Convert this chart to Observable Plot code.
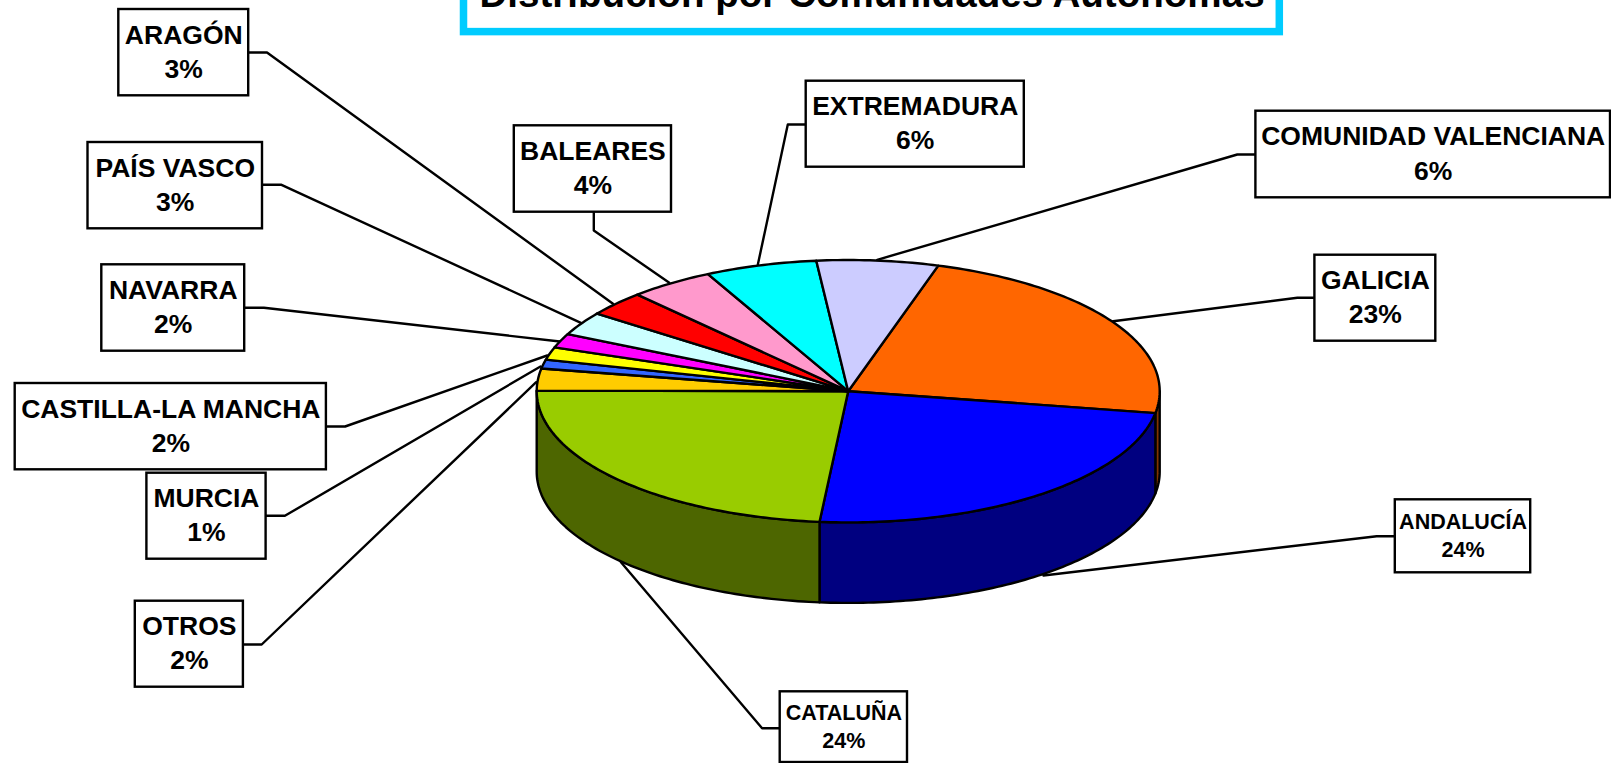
<!DOCTYPE html>
<html lang="es">
<head>
<meta charset="utf-8">
<title>Distribución por Comunidades Autónomas</title>
<style>
html,body{margin:0;padding:0;background:#fff;overflow:hidden}
svg{display:block}
</style>
<script src="https://cdn.jsdelivr.net/npm/d3@7"></script>
<script src="https://cdn.jsdelivr.net/npm/@observablehq/plot@0.6"></script>
</head>
<body>
<div id="chart"></div>
<script>
const titleText = "Distribución por Comunidades Autónomas";
// clockwise from the start of the orange slice
const regions = ["GALICIA","ANDALUCÍA","CATALUÑA","OTROS","MURCIA","CASTILLA-LA MANCHA","NAVARRA","PAÍS VASCO","ARAGÓN","BALEARES","EXTREMADURA","COMUNIDAD VALENCIANA"];
const shares  = [23, 23.8, 23.6, 2.7, 1.1, 1.55, 1.75, 2.9, 3.1, 4.4, 5.8, 6.3];
const printed = ["23%","24%","24%","2%","1%","2%","2%","3%","3%","4%","6%","6%"];
const topColors  = ["#FF6600","#0000FF","#99CC00","#FFCC00","#3366FF","#FFFF00","#FF00FF","#CCFFFF","#FF0000","#FF99CC","#00FFFF","#CCCCFF"];
const sideColors = ["#803300","#000080","#4D6600","#806600","#1A3380","#808000","#800080","#668080","#800000","#804D66","#008080","#666680"];

// label layout, in page pixels: box x1,x2,y1,y2, and leader elbow and end
const boxX1 = [1314.4,1394.8,779.7,134.8,146.4,14.7,101.3,87.5,118.3,513.8,805.7,1255.4];
const boxX2 = [1435.3,1530.2,907,242.9,265.6,325.9,244.2,262,248.2,671,1023.8,1610];
const boxY1 = [254.7,499.3,691.3,600.7,472.7,383,264.3,142,9,125.3,80.7,110.7];
const boxY2 = [340.7,572.3,762,686.7,558.7,469.3,350.7,228.3,95.3,211.7,166.7,197.3];
const leadStart = [[1314.4,297.3],[1394.8,535.7],[779.7,727.7],[243,644],[265.6,515.3],[326,426],[244,307.3],[262,184.3],[248,52],[593.3,211.7],[805.7,124],[1255.4,154]];
const leadElbow = [[1296.9,297.3],[1376.2,535.7],[761.6,727.7],[261.2,644],[284.4,515.3],[344.6,426],[263.4,307.3],[281,184.3],[266.5,52],[593.3,230],[787.3,124],[1236.8,154]];
const leadEnd   = [[1112.6,320.7],[1043,575],[620.5,561.7],[535.7,381.7],[540,366],[546.7,355],[559.4,341],[580.4,322.3],[612.5,303.3],[668.8,282.3],[757.3,264.3],[876.7,259.3]];
const smallLabel = ["ANDALUCÍA","CATALUÑA"];

// pie geometry
const cx = 847.7, cy = 390.7, rx = 311.5, ry = 131.2, depth = 80.5;
const rad = Math.PI/180;
const arcs = d3.pie().sort(null).value(d => d).startAngle(16.8*rad).endAngle((16.8+360)*rad)(shares);
const pt = (a, dz = 0) => ({x: cx + rx*Math.sin(a), y: cy - ry*Math.cos(a) + dz});
const sweep = (a0, a1) => {
  const n = Math.max(2, Math.ceil((a1-a0)/rad));
  return d3.range(n+1).map(i => a0 + (a1-a0)*i/n);
};
const topPts = [], sidePts = [];
arcs.forEach((arc,i) => {
  const ring = [{x:cx,y:cy}, ...sweep(arc.startAngle, arc.endAngle).map(a => pt(a)), {x:cx,y:cy}];
  ring.forEach(p => topPts.push({...p, name:regions[i], color:topColors[i]}));
  const a0 = Math.max(arc.startAngle, 90*rad), a1 = Math.min(arc.endAngle, 270*rad);
  if (a1 > a0) {
    const s = sweep(a0,a1);
    const wall = [...s.map(a => pt(a)), ...s.slice().reverse().map(a => pt(a,depth))];
    wall.push(wall[0]);
    wall.forEach(p => sidePts.push({...p, name:regions[i], color:sideColors[i]}));
  }
});

const leaders = regions.flatMap((name,i) => [leadStart[i],leadElbow[i],leadEnd[i]].map(([x,y]) => ({name,x,y})));
const boxes = regions.map((name,i) => ({name,pct:printed[i],x1:boxX1[i],x2:boxX2[i],y1:boxY1[i],y2:boxY2[i],
  xm:(boxX1[i]+boxX2[i])/2, ym:(boxY1[i]+boxY2[i])/2}));
const bigBoxes = boxes.filter(b => !smallLabel.includes(b.name));
const smallBoxes = boxes.filter(b => smallLabel.includes(b.name));
const font = "'Liberation Sans', Arial, sans-serif";

const labelMarks = (data, size, up, down) => [
  Plot.text(data, {x:"xm", y:d => d.ym - up, text:"name", fontSize:size, fontWeight:"bold", fontFamily:font, fill:"black"}),
  Plot.text(data, {x:"xm", y:d => d.ym + down, text:"pct", fontSize:size, fontWeight:"bold", fontFamily:font, fill:"black"})
];

const chart = Plot.plot({
  width:1611, height:763, margin:0,
  x:{domain:[0,1611], range:[0,1611], axis:null},
  y:{domain:[0,763], range:[0,763], axis:null},
  style:{background:"#fff"},
  marks:[
    Plot.line(leaders, {x:"x", y:"y", z:"name", stroke:"black", strokeWidth:2.4}),
    Plot.line(sidePts, {x:"x", y:"y", z:"name", fill:"color", stroke:"black", strokeWidth:2.4}),
    Plot.line(topPts,  {x:"x", y:"y", z:"name", fill:"color", stroke:"black", strokeWidth:2.4}),
    Plot.rect(boxes, {x1:"x1", x2:"x2", y1:"y1", y2:"y2", fill:"white", stroke:"black", strokeWidth:2.4}),
    ...labelMarks(bigBoxes, 26.5, 17.6, 16.6),
    ...labelMarks(smallBoxes, 21.5, 14.4, 14),
    Plot.rect([{x1:463.5,x2:1279.3,y1:-30,y2:31.6}], {x1:"x1", x2:"x2", y1:"y1", y2:"y2", fill:"white", stroke:"#00CCFF", strokeWidth:7.5}),
    Plot.text([titleText], {x:871.5, y:-6, text:d => d, fontSize:38.6, fontWeight:"bold", fontFamily:font, fill:"black"})
  ]
});
document.getElementById("chart").append(chart);
</script>
</body>
</html>
